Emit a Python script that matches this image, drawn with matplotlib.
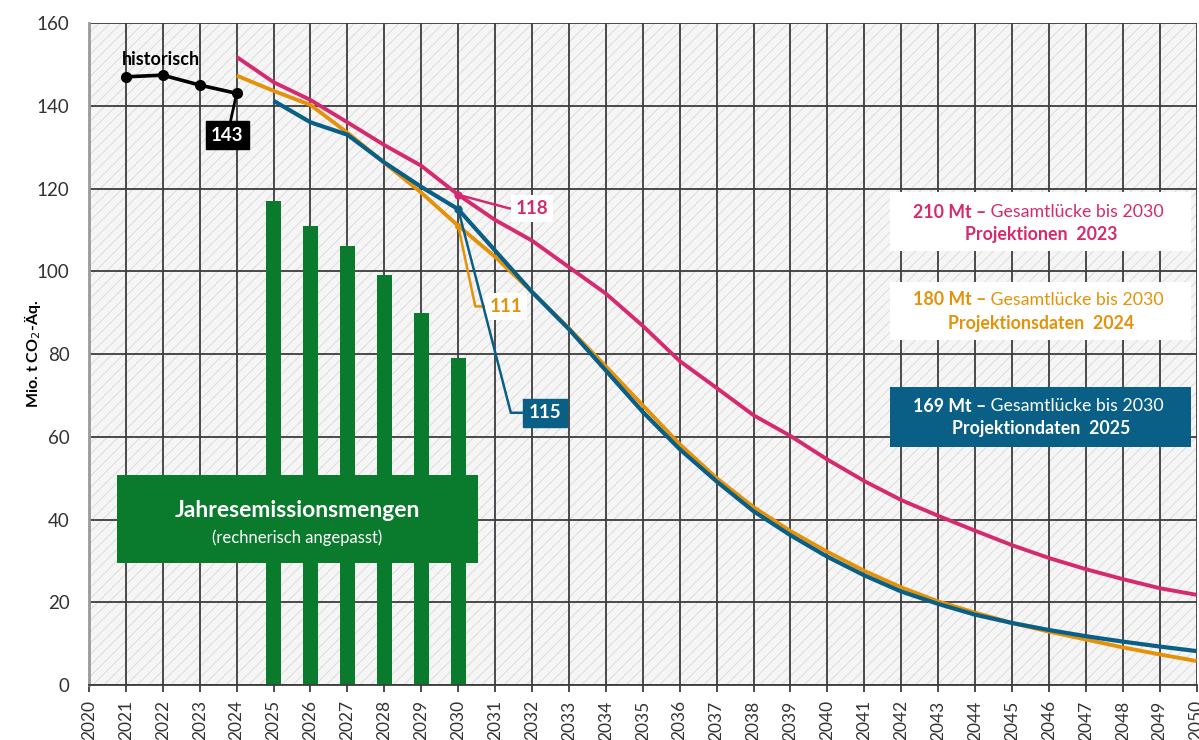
import matplotlib.pyplot as plt
from matplotlib.patches import Rectangle

plt.rcParams['font.family'] = ['Lato', 'DejaVu Sans']
plt.rcParams['hatch.linewidth'] = 0.7

# historic emissions
hist_years = [2021, 2022, 2023, 2024]
hist_vals = [147.0, 147.4, 145.0, 143.0]

# annual emission budgets (bars)
bar_years = [2025, 2026, 2027, 2028, 2029, 2030]
bar_vals = [117, 111, 106, 99, 90, 79]

years_23 = list(range(2024, 2051))
proj_23 = [151.8, 145.7, 141.4, 136.0, 130.5, 125.5, 118.5, 112.4, 107.4, 101.0, 94.6,
           86.8, 78.3, 71.8, 65.2, 60.2, 54.5, 49.3, 44.7, 40.9, 37.3, 33.8, 30.7,
           28.0, 25.6, 23.4, 21.8]

years_24 = list(range(2024, 2051))
proj_24 = [147.3, 143.6, 140.2, 133.5, 126.2, 119.0, 111.0, 103.5, 95.0, 86.2, 77.0,
           67.6, 58.2, 50.0, 43.0, 37.2, 32.2, 27.6, 23.6, 20.2, 17.5, 15.0, 12.9,
           11.0, 9.1, 7.4, 5.8]

years_25 = list(range(2025, 2051))
proj_25 = [141.2, 136.0, 133.0, 126.3, 120.4, 115.0, 105.0, 95.0, 86.0, 76.0, 66.0,
           57.0, 49.2, 42.0, 36.2, 31.0, 26.5, 22.6, 19.6, 17.0, 15.0, 13.3, 11.8,
           10.5, 9.3, 8.2]

PINK = '#d62a6e'
ORANGE = '#e3920a'
BLUE = '#0a5f86'
GREEN = '#0a7a2c'
GRID = '#3c3c3c'

fig = plt.figure(figsize=(11.99, 7.40), dpi=100)
ax = fig.add_axes([0.0742, 0.0743, 0.9238, 0.8946])

ax.set_xlim(2020, 2050)
ax.set_ylim(0, 160)

# hatched background
ax.add_patch(Rectangle((0, 0), 1, 1, transform=ax.transAxes, facecolor='#f5f5f5',
                       edgecolor='#dcdcdc', hatch='///', linewidth=0, zorder=0))

ax.set_xticks(range(2020, 2051))
ax.set_yticks(range(0, 161, 20))
ax.grid(True, color=GRID, linewidth=1.3, zorder=1)
ax.set_axisbelow(True)

ax.bar(bar_years, bar_vals, width=0.4, color=GREEN, zorder=2)

ax.plot(years_23, proj_23, color=PINK, lw=2.8, zorder=4, solid_capstyle='butt')
ax.plot(years_24, proj_24, color=ORANGE, lw=2.8, zorder=4, solid_capstyle='butt')
ax.plot(years_25, proj_25, color=BLUE, lw=3.0, zorder=5, solid_capstyle='butt')
ax.plot(hist_years, hist_vals, color='black', lw=2.6, marker='o', ms=7, zorder=6)

# markers at 2030
ax.plot([2030], [proj_23[years_23.index(2030)]], 'o', color=PINK, ms=5, zorder=6)
ax.plot([2030], [proj_24[years_24.index(2030)]], 'o', color=ORANGE, ms=4, zorder=6)
ax.plot([2030], [proj_25[years_25.index(2030)]], 'o', color=BLUE, ms=5, zorder=6)

ax.text(2021.95, 151.2, 'historisch', fontsize=13, fontweight='bold', ha='center',
        va='center', zorder=7)
ax.annotate('143', xy=(2024, 143), xytext=(2023.75, 132.9), fontsize=13.5,
            fontweight='bold', color='white', ha='center', va='center', zorder=7,
            bbox=dict(boxstyle='square,pad=0.3', fc='black', ec='black'),
            arrowprops=dict(arrowstyle='-', color='black', lw=2, shrinkA=0, shrinkB=0))

ax.annotate('118', xy=(2030, 118.5), xytext=(2031.55, 115.2), fontsize=13.5,
            fontweight='bold', color=PINK, ha='left', va='center', zorder=7,
            bbox=dict(boxstyle='square,pad=0.25', fc='white', ec='none'),
            arrowprops=dict(arrowstyle='-', color=PINK, lw=1.8, shrinkA=0, shrinkB=0,
                            connectionstyle='angle,angleA=180,angleB=165,rad=0'))
ax.annotate('111', xy=(2030, 111), xytext=(2030.85, 91.5), fontsize=13.5,
            fontweight='bold', color=ORANGE, ha='left', va='center', zorder=7,
            bbox=dict(boxstyle='square,pad=0.25', fc='white', ec='none'),
            arrowprops=dict(arrowstyle='-', color=ORANGE, lw=1.8, shrinkA=0, shrinkB=0,
                            connectionstyle='angle,angleA=180,angleB=102,rad=0'))
ax.annotate('115', xy=(2030, 115), xytext=(2031.9, 65.8), fontsize=13.5,
            fontweight='bold', color='white', ha='left', va='center', zorder=7,
            bbox=dict(boxstyle='square,pad=0.3', fc=BLUE, ec=BLUE),
            arrowprops=dict(arrowstyle='-', color=BLUE, lw=1.8, shrinkA=0, shrinkB=0,
                            connectionstyle='angle,angleA=180,angleB=104.5,rad=0'))

# green label box
ax.add_patch(Rectangle((2020.76, 29.5), 9.78, 21.3, facecolor=GREEN, edgecolor='none',
                       zorder=8))
ax.text(2025.65, 42.3, 'Jahresemissionsmengen', color='white', fontsize=16.5,
        fontweight='bold', ha='center', va='center', zorder=9)
ax.text(2025.65, 35.6, '(rechnerisch angepasst)', color='white', fontsize=12,
        ha='center', va='center', zorder=9)

# gap boxes
boxes = [
    ('210 Mt \u2013', ' Gesamtlücke bis 2030', 'Projektionen  2023', PINK, 'white',
     119.2, 104.9, 114.3, 108.8),
    ('180 Mt \u2013', ' Gesamtlücke bis 2030', 'Projektionsdaten  2024', ORANGE, 'white',
     97.4, 83.4, 93.1, 87.3),
    ('169 Mt \u2013', ' Gesamtlücke bis 2030', 'Projektiondaten  2025', 'white', BLUE,
     72.0, 57.5, 67.4, 62.1),
]
for bold, regular, line2, tc, fc, top, bottom, y1, y2 in boxes:
    ax.add_patch(Rectangle((2041.7, bottom), 8.15, top - bottom, facecolor=fc,
                           edgecolor='none', zorder=8))
    ax.text(2044.3, y1, bold, color=tc, fontsize=12.8, fontweight='bold', ha='right',
            va='center', zorder=9)
    ax.text(2044.3, y1, regular, color=tc, fontsize=12.8, ha='left', va='center',
            zorder=9)
    ax.text(2045.8, y2, line2, color=tc, fontsize=12.8, fontweight='bold',
            ha='center', va='center', zorder=9)

ax.tick_params(axis='x', length=5, width=1.3, color=GRID, direction='out',
               labelsize=12.5, labelcolor='#333333', pad=6, labelrotation=90)
ax.tick_params(axis='y', length=0, labelsize=13.5, labelcolor='#333333', pad=14)
for lab in ax.get_xticklabels():
    lab.set_verticalalignment('top')

for s in ['top', 'right']:
    ax.spines[s].set_visible(False)
ax.spines['left'].set_color('#999999')
ax.spines['left'].set_linewidth(2)
ax.spines['bottom'].set_color(GRID)
ax.spines['bottom'].set_linewidth(1.3)

ax.set_ylabel('Mio. t CO$_2$-Äq.', fontsize=11.5, fontweight='bold', va='center')
ax.yaxis.set_label_coords(-0.051, 0.5)

fig.savefig('out.png', dpi=100)
